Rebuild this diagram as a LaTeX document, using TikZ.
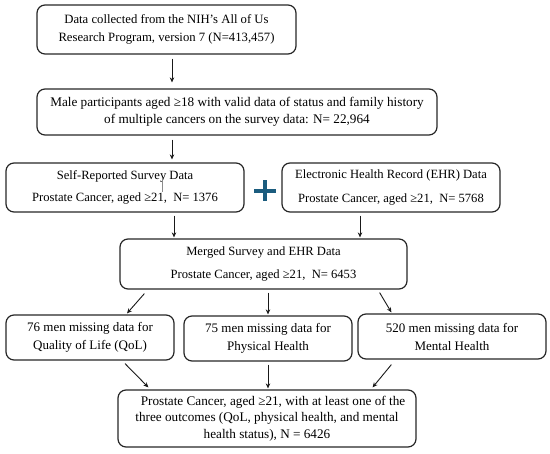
\documentclass[tikz,border=0pt]{standalone}
\usepackage{fontspec}
\setmainfont{Liberation Serif}
\usetikzlibrary{arrows.meta,calc}
\definecolor{plusblue}{HTML}{1B5C7E}
\begin{document}
\begin{tikzpicture}[x=1pt,y=-1pt,
  box/.style={draw=black!85,line width=1.2pt,rounded corners=8pt,align=center,inner sep=0pt,
    font=\fontsize{12.7}{17.5}\selectfont},
  arr/.style={draw=black!90,line width=0.9pt,-{Stealth[length=5pt,width=4.5pt]}}]
\useasboundingbox (0,0) rectangle (550,454);
\node[box,minimum width=259pt,minimum height=49pt] (b1) at (166.5,29.5)
  {Data collected from the NIH’s All of Us\\Research Program, version 7 (N=413,457)};
\node[box,minimum width=400pt,minimum height=46pt,font=\fontsize{13.2}{17.5}\selectfont] (b2) at (237,112)
  {Male participants aged ≥18 with valid data of status and family history\\of multiple cancers on the survey data: N= 22,964};
\node[box,minimum width=238pt,minimum height=49pt,font=\fontsize{12.6}{22.5}\selectfont] (b3) at (125,187.5)
  {Self-Reported Survey Data\\Prostate Cancer, aged ≥21,\ \ N= 1376};
\node[box,minimum width=218pt,minimum height=49pt,font=\fontsize{12.6}{23.5}\selectfont] (b4) at (391,187.5)
  {Electronic Health Record (EHR) Data\\Prostate Cancer, aged ≥21,\ \ N= 5768};
\node[box,minimum width=287pt,minimum height=50pt,font=\fontsize{12.6}{23}\selectfont] (b5) at (263.5,264)
  {Merged Survey and EHR Data\\Prostate Cancer, aged ≥21,\ \ N= 6453};
\node[box,minimum width=168pt,minimum height=45pt,font=\fontsize{13}{18}\selectfont] (b6) at (90,337.5)
  {76 men missing data for\\Quality of Life (QoL)};
\node[box,minimum width=168pt,minimum height=45pt,font=\fontsize{13}{18}\selectfont] (b7) at (268,338.5)
  {75 men missing data for\\Physical Health};
\node[box,minimum width=188pt,minimum height=45pt,font=\fontsize{13}{18}\selectfont] (b8) at (452,336.5)
  {520 men missing data for\\Mental Health};
\node[box,minimum width=298pt,minimum height=57pt,font=\fontsize{13.2}{16.5}\selectfont] (b9) at (267,418.5)
  {\hspace*{12pt}Prostate Cancer, aged ≥21, with at least one of the\\three outcomes (QoL, physical health, and mental\\health status), N = 6426};
% connector start points
\coordinate (s1) at ($(b1.south)+(5.5,4)$);
\coordinate (s2) at ($(b2.south)+(-65,4)$);
\coordinate (s3) at ($(b3.south)+(49,3)$);
\coordinate (s4) at ($(b4.south)+(-31,3)$);
\coordinate (s6) at ($(b5.south)+(4.5,3)$);
\coordinate (s9) at ($(b7.south)+(0,3)$);
% connectors
\draw[arr,shorten >=6pt] (s1) -- (s1 |- b2.north);
\draw[arr,shorten >=3pt] (s2) -- (s2 |- b3.north);
\draw[arr,shorten >=1pt] (s3) -- (s3 |- b5.north);
\draw[arr,shorten >=1pt] (s4) -- (s4 |- b5.north);
\draw[arr] ($(b5.south west)+(25,4)$) -- ($(b6.north)+(37,-1)$);
\draw[arr,shorten >=1pt] (s6) -- (s6 |- b7.north);
\draw[arr] ($(b5.south east)+(-28,3)$) -- ($(b8.north west)+(34,-1)$);
\draw[arr] ($(b6.south)+(35,3)$) -- ($(b9.north west)+(31,-2)$);
\draw[arr,shorten >=1pt] (s9) -- (s9 |- b9.north);
\draw[arr] ($(b8.south west)+(34,5)$) -- ($(b9.north east)+(-44,-2)$);
% plus sign
\draw[plusblue,line width=3.6pt] (254,191) -- (276,191) (265,180.5) -- (265,201.5);
% small stray tick in the survey box
\draw[black!45,line width=0.5pt] (162.5,178) -- (162.5,192);
\end{tikzpicture}
\end{document}
